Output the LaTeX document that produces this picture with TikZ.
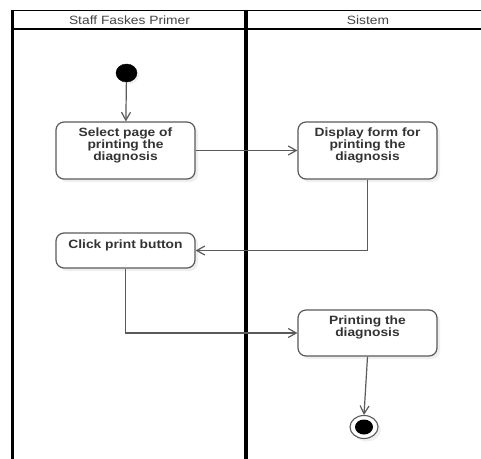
\documentclass[tikz,border=0pt]{standalone}
\usepackage{fontspec}
\usetikzlibrary{arrows.meta,shapes.geometric,shadows}
\newfontfamily\lanefont[FakeStretch=1.15]{Liberation Sans}
\newfontfamily\actfont[FakeStretch=1.15]{Liberation Sans}
\definecolor{edgegray}{HTML}{5A5A5A}
\definecolor{inkgray}{HTML}{333333}
\definecolor{headgray}{HTML}{444444}
\tikzset{
  lane/.style={line width=3.2pt, black},
  laneline/.style={line width=1.6pt, black},
  lanetitle/.style={font={\lanefont\fontsize{12}{12}\selectfont}, text=headgray, inner sep=0pt},
  actbox/.style={draw=edgegray, fill=white, line width=1.2pt, rounded corners=8pt,
    minimum width=139pt, inner sep=0pt,
    drop shadow={shadow xshift=3pt, shadow yshift=-3pt, opacity=0.12}},
  acttext/.style={font={\actfont\bfseries\fontsize{12}{11}\selectfont}, text=inkgray,
    align=center, inner sep=0pt, anchor=north},
  flow/.style={draw=edgegray, line width=1.2pt, -{Straight Barb[length=8pt,width=9pt]}},
  startdot/.style={ellipse, fill=black, draw=black, minimum width=21pt, minimum height=18pt,
    inner sep=0pt, drop shadow={shadow xshift=2pt, shadow yshift=-2pt, opacity=0.12}},
}
\begin{document}
\begin{tikzpicture}[x=1pt, y=-1pt]
  \useasboundingbox (0,0) rectangle (481,458);
  \fill[white] (0,0) rectangle (481,458);

  % swimlane frame
  \draw[laneline] (12.5,10.5) -- (490,10.5);
  \draw[laneline] (12.5,29) -- (490,29);
  \draw[lane] (12.5,9.7) -- (12.5,462);
  \draw[lane] (246,9.7) -- (246,462);
  \node[lanetitle] (lanea) at (129.5,20) {Staff Faskes Primer};
  \node[lanetitle] (laneb) at (368,20) {Sistem};

  % initial node
  \node[startdot] (start) at (126.5,73) {};

  % actions
  \node[actbox, minimum height=57pt] (b1) at (125.5,150.5) {};
  \node[acttext] (t1) at ([yshift=-6pt]b1.north) {Select page of\\printing the\\diagnosis};

  \node[actbox, minimum height=57pt] (b2) at (367.5,150.5) {};
  \node[acttext] (t2) at ([yshift=-6pt]b2.north) {Display form for\\printing the\\diagnosis};

  \node[actbox, minimum height=35pt] (b3) at (125.5,250.5) {};
  \node[acttext] (t3) at ([yshift=-7pt]b3.north) {Click print button};

  \node[actbox, minimum height=46pt] (b4) at (367.5,333) {};
  \node[acttext] (t4) at ([yshift=-6pt]b4.north) {Printing the\\diagnosis};

  % final node
  \node[ellipse, draw=edgegray, fill=white, line width=1.1pt, minimum width=28pt,
        minimum height=23pt, inner sep=0pt,
        drop shadow={shadow xshift=3pt, shadow yshift=-3pt, opacity=0.12}] (end) at (364,427) {};
  \node[ellipse, fill=black, minimum width=18pt, minimum height=15pt, inner sep=0pt] (endcore) at (end.center) {};

  % control flow
  \draw[flow] (start) -- (b1);
  \draw[flow] (b1.east) -- (b2.west);
  \draw[flow] (b2.south) |- (b3.east);
  \draw[flow] (b3.south) |- (b4.west);
  \draw[flow] (b4.south) -- (end.north);
\end{tikzpicture}
\end{document}
